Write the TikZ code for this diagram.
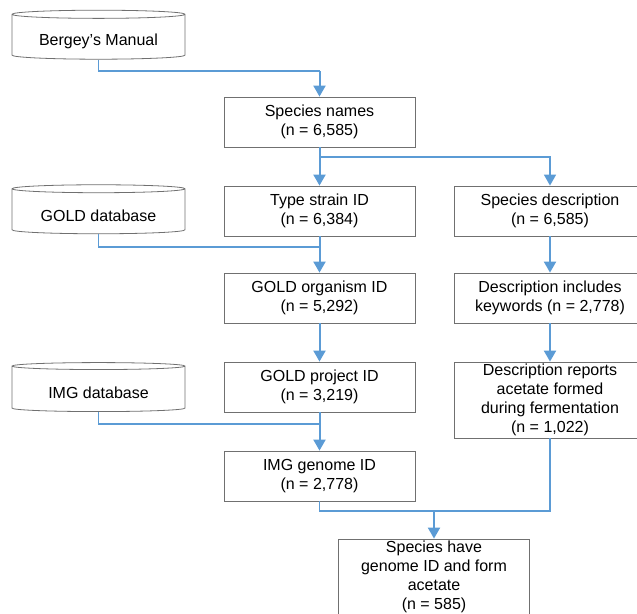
\documentclass[tikz,border=0pt]{standalone}
\usepackage{fontspec}
\setmainfont{Liberation Sans}
\usepackage{tikz}
\usepackage{xcolor}
\usetikzlibrary{arrows.meta, shapes.geometric}
\definecolor{flowblue}{RGB}{91,155,213}
\definecolor{boxgray}{RGB}{112,112,112}

\begin{document}
\begin{tikzpicture}[x=1pt, y=-1pt,
	box/.style={shape=rectangle, draw=boxgray, line width=0.8pt, minimum width=191pt, minimum height=50pt, inner sep=1pt, align=center, font=\fontsize{16}{19}\selectfont},
	dbase/.style={shape=cylinder, shape border rotate=90, aspect=0.065, draw=boxgray, line width=0.8pt, minimum width=173pt, minimum height=49pt, font=\fontsize{16}{19}\selectfont},
	feed/.style={draw=flowblue, line width=1.1pt},
	flow/.style={draw=flowblue, line width=2pt, -{Triangle[width=12pt, length=11pt]}}]
	% Paths, nodes, and wires:
	\clip (0, 0) rectangle (637, 613);
	\node[dbase](N1) at (98.5, 37.5){\raisebox{-3.5pt}[\height][\depth]{Bergey’s Manual}};
	\node[box](N2) at (319.5, 122){Species names\\(n = 6,585)};
	\node[box](N3) at (319.5, 211){Type strain ID\\(n = 6,384)};
	\node[box](N4) at (550, 211){Species description\\(n = 6,585)};
	\node[dbase](N5) at (98.5, 212){\raisebox{-3.5pt}[\height][\depth]{GOLD database}};
	\node[box](N6) at (319.5, 298){GOLD organism ID\\(n = 5,292)};
	\node[box](N7) at (550, 298){Description includes\\keywords (n = 2,778)};
	\node[box](N8) at (319.5, 387){GOLD project ID\\(n = 3,219)};
	\node[box, minimum height=76pt](N9) at (550, 400){Description reports\\acetate formed\\during fermentation\\(n = 1,022)};
	\node[dbase](N10) at (98.5, 389.5){\raisebox{-3.5pt}[\height][\depth]{IMG database}};
	\node[box](N11) at (319.5, 476){IMG genome ID\\(n = 2,778)};
	\node[box, minimum height=76pt](N12) at (434, 577){Species have\\genome ID and form\\acetate\\(n = 585)};
	\coordinate (J1) at (319.5, 71);
	\coordinate (J2) at (319.5, 157);
	\coordinate (J3) at (319.5, 247);
	\coordinate (J4) at (319.5, 424);
	\coordinate (J5) at (434, 511);
	\draw[feed] (N1.south) |- (J1);
	\draw[flow] (J1) -- (N2.north);
	\draw[flow] (N2.south) -- (N3.north);
	\draw[flow, line width=1.5pt] (J2) -| (N4.north);
	\draw[feed] (N5.south) |- (J3);
	\draw[flow] (N3.south) -- (N6.north);
	\draw[flow] (N4.south) -- (N7.north);
	\draw[flow] (N6.south) -- (N8.north);
	\draw[flow] (N7.south) -- (N9.north);
	\draw[feed] (N10.south) |- (J4);
	\draw[flow] (N8.south) -- (N11.north);
	\draw[feed] (N11.south) |- (J5) -| (N9.south);
	\draw[flow] (J5) -- (N12.north);
\end{tikzpicture}
\end{document}
